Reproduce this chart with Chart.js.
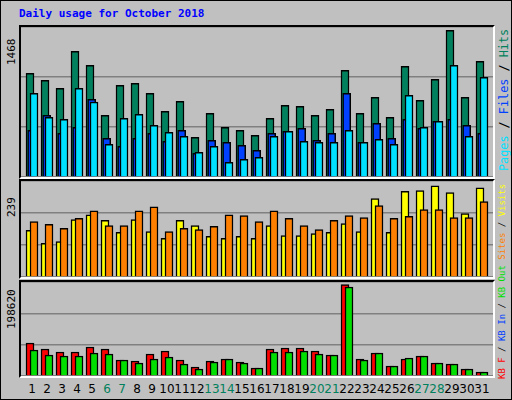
<!DOCTYPE html>
<html><head><meta charset="utf-8">
<script src="https://cdn.jsdelivr.net/npm/chart.js@4"></script>
<style>
html,body{margin:0;padding:0;background:#fff}
#wrap{position:relative;width:510px;height:398px;background:#c0c0c0;border:1px solid #000;overflow:hidden;font-family:"DejaVu Sans Mono",monospace;font-size:11px}
.frame{position:absolute;box-sizing:border-box;border-top:2px solid #000;border-left:2px solid #000;border-right:2px solid #fff;border-bottom:2px solid #fff}
canvas{position:absolute}
.t{position:absolute;white-space:nowrap}
.rot{position:absolute;white-space:nowrap;transform-origin:0 0;transform:rotate(-90deg)}
</style></head><body>
<div id="wrap">
<div class="t" style="left:18px;top:6px;color:#0000ff;font-weight:bold;font-size:11px">Daily usage for October 2018</div>
</div>
<script>
const days=[1,2,3,4,5,6,7,8,9,10,11,12,13,14,15,16,17,18,19,20,21,22,23,24,25,26,27,28,29,30,31];
const weekend=[6,7,13,14,20,21,27,28];
const hits=[1015,946,868,1230,1093,604,897,917,819,643,741,388,623,486,457,408,574,701,692,604,662,1044,623,780,584,1083,750,956,1435,780,1132];
const files=[457,604,427,486,760,378,300,378,427,349,457,232,359,339,310,261,427,447,476,359,427,819,339,525,378,564,476,545,564,506,427];
const pages=[819,584,564,868,734,320,574,613,506,437,398,241,300,144,173,192,398,447,349,339,339,457,339,369,320,799,486,545,1093,398,975];
const visits=[116,84,88,143,155,141,111,143,113,96,141,128,101,96,101,96,128,103,103,108,111,133,113,195,111,213,215,227,210,158,222];
const sites=[138,131,121,146,165,128,128,165,175,113,121,118,126,155,153,138,165,146,128,118,141,153,148,178,146,151,168,168,148,148,188];
const kbF=[71760,58720,52190,52190,63070,58720,34800,32620,47840,54370,34800,19570,32620,36970,30450,17400,58720,60890,60890,54370,45670,198620,36970,50020,21750,36970,43490,28270,26100,15220,8700];
const kbOut=[56540,45670,43490,43490,50020,47840,34800,28270,36970,41320,26100,15220,30450,36970,28270,17400,52190,52190,54370,47840,45670,193550,34800,50020,21750,39140,43490,28270,26100,15220,8700];
const maxLabels=["1468","239","198620"];

const wrap=document.getElementById('wrap');
const L=20,W=472,U=15,xmin=1-5/U,xmax=xmin+W/U;
function pts(arr,off){return arr.map((v,i)=>({x:days[i]+off/U,y:v}));}
function ds(arr,off,color,ord){return {data:pts(arr,off),backgroundColor:color,borderColor:'#000',borderWidth:1.5,barThickness:8,grouped:false,order:ord,borderSkipped:'bottom'};}
function panel(top,h,sets,ymax){
  const f=document.createElement('div');f.className='frame';
  f.style.cssText=`left:${L-2}px;top:${top-2}px;width:${W+4}px;height:${h+4}px`;
  wrap.appendChild(f);
  const c=document.createElement('canvas');
  c.style.cssText=`left:${L}px;top:${top}px;width:${W}px;height:${h}px`;
  c.width=W;c.height=h;wrap.appendChild(c);
  new Chart(c,{type:'bar',data:{datasets:sets},options:{responsive:false,animation:false,devicePixelRatio:1,
    layout:{padding:0},plugins:{legend:{display:false},tooltip:{enabled:false}},
    scales:{x:{type:'linear',min:xmin,max:xmax,offset:false,display:false},
      y:{min:0,max:ymax,ticks:{display:false,stepSize:ymax/3},border:{display:false},grid:{color:'#808080',lineWidth:1.5,drawTicks:false}}}}});
}
panel(26,150,[ds(hits,4,'#00805c',3),ds(files,5.7,'#0040ff',2),ds(pages,8,'#00e0ff',1)],1468);
panel(180,96,[ds(visits,4,'#ffff00',2),ds(sites,8,'#ff8000',1)],239);
panel(281,94,[ds(kbF,4,'#ff0000',2),ds(kbOut,8,'#00e000',1)],204400);

function rot(x,y,fs,html){const d=document.createElement('div');d.className='rot';d.style.left=x+'px';d.style.top=y+'px';d.style.fontSize=fs+'px';d.innerHTML=html;wrap.appendChild(d);}
rot(4,64,11,'<span style="color:#000">'+maxLabels[0]+'</span>');
rot(4,216,11,'<span style="color:#000">'+maxLabels[1]+'</span>');
rot(4,328,11,'<span style="color:#000">'+maxLabels[2]+'</span>');
rot(496,170,11.8,'<span style="color:#00e0ff">Pages</span><span style="color:#000"> / </span><span style="color:#0040ff">Files</span><span style="color:#000"> / </span><span style="color:#00805c">Hits</span>');
rot(496,378,9,'<span style="color:#ff0000">KB F</span><span style="color:#000"> / </span><span style="color:#0040ff">KB In</span><span style="color:#000"> / </span><span style="color:#00e000">KB Out</span> <span style="color:#ff8000">Sites</span><span style="color:#000"> / </span><span style="color:#ffff00">Visits</span>');
days.forEach(d=>{const s=document.createElement('div');s.className='t';
  s.style.cssText=`left:${L+(d-xmin)*U+6-15}px;width:30px;text-align:center;top:381px;font-size:12px;font-family:'DejaVu Sans',sans-serif;color:${weekend.includes(d)?'#00805c':'#000'}`;
  s.textContent=d;wrap.appendChild(s);});
</script>
</body></html>
